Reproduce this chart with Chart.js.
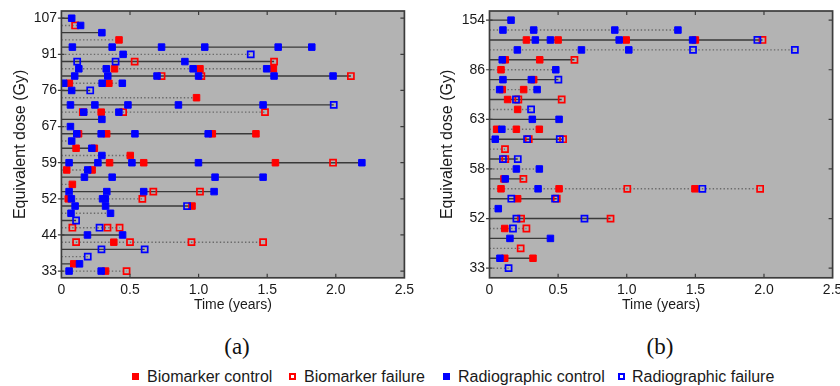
<!DOCTYPE html>
<html>
<head>
<meta charset="utf-8">
<script src="https://cdn.jsdelivr.net/npm/chart.js@4/dist/chart.umd.min.js"></script>
<style>
html,body{margin:0;padding:0;background:#fff;}
body{width:840px;height:386px;overflow:hidden;position:relative;font-family:"Liberation Sans",Arial,sans-serif;}
#c1{position:absolute;left:0;top:0;}
#c2{position:absolute;left:420px;top:0;}
.panel{position:absolute;top:346px;font-family:"Liberation Serif","Times New Roman",serif;font-size:23px;color:#111;transform:translate(-50%,-50%);line-height:1;}
.mk{position:absolute;width:7px;height:7px;top:373px;box-sizing:border-box;}
.lt{position:absolute;top:367px;font-size:16px;line-height:19px;color:#1a1a1a;white-space:nowrap;}
</style>
</head>
<body>
<canvas id="c1" width="420" height="320"></canvas>
<canvas id="c2" width="440" height="320"></canvas>
<div class="panel" style="left:237px">(a)</div>
<div class="panel" style="left:660px">(b)</div>
<div class="mk" style="left:131.5px;background:#ff0000"></div>
<div class="lt" style="left:147px">Biomarker control</div>
<div class="mk" style="left:289px;border:2px solid #ff0000"></div>
<div class="lt" style="left:304px">Biomarker failure</div>
<div class="mk" style="left:443px;background:#0000ff"></div>
<div class="lt" style="left:458px">Radiographic control</div>
<div class="mk" style="left:618px;border:2px solid #0000ff"></div>
<div class="lt" style="left:632px">Radiographic failure</div>
<script>
// ---------- Panel (a): rows listed top to bottom ----------
const aDoseTicks = ['107','91','76','67','59','52','44','33'];
const aBioControl = [[],[],[],[0.42],[],[],[],[0.387,1.01,1.545],[],[0.058,0.346],[],[0.985],[],[0.29],[],[],[0.125,0.33,1.10,1.418],[],[0.107,0.24],[0.502],[0.351,0.60,1.56],[0.039,0.224],[],[0.08],[],[0.05],[0.952],[],[],[],[],[0.382],[],[],[0.09],[0.322]];
const aBioFailure = [[],[0.10],[],[],[],[],[0.534,1.55],[],[0.73,1.02,2.11],[],[],[],[],[0.156,0.45,1.484],[],[],[],[],[],[],[1.98],[],[],[],[0.67,1.01],[0.59],[],[],[],[0.08,0.336,0.424],[],[0.107,0.5,0.948,1.47],[],[],[],[0.475]];
const aRadControl = [[0.075],[0.14],[0.295],[],[0.08,0.37,0.73,1.045,1.58,1.825],[0.45],[0.90],[0.127,0.327,0.96,1.496],[0.097,0.338,0.697,1.00,1.55,1.98],[0.017,0.297,0.444],[0.075],[],[0.066,0.244,0.485,0.853,1.47],[0.163,0.419],[0.295],[0.066],[0.112,0.29,0.536,1.07],[0.075],[0.222],[0.295],[0.056,0.266,0.514,0.999,2.19],[0.192],[0.168,0.37,1.12,1.47],[],[0.056,0.331,0.60,1.113],[0.073,0.30,0.32],[0.10,0.322],[0.07,0.358],[],[],[0.19,0.446],[],[],[],[0.132],[0.056,0.29]];
const aRadFailure = [[],[],[],[],[],[1.38],[0.115,0.395],[],[],[],[0.21],[],[1.985],[],[],[],[],[],[],[],[],[],[],[],[],[],[0.916],[],[0.107],[0.278],[],[],[0.292,0.607],[0.192],[],[]];

// ---------- Panel (b): rows listed top to bottom ----------
const bDoseTicks = ['154','86','63','58','52','33'];
const bBioControl = [[],[],[0.269,0.50,0.996,1.50],[],[0.115,0.366],[0.084],[0.322],[0.093,0.249],[0.132],[0.205],[],[0.052,0.196,0.363],[],[],[],[],[0.105],[0.084,0.507,1.497],[0.205],[],[],[0.111],[],[],[0.111,0.317],[]];
const bBioFailure = [[],[],[1.989],[],[0.619],[],[],[],[0.21,0.526],[],[],[],[0.286,0.536],[0.113],[0.115],[],[0.247],[1.004,1.972],[0.49],[],[0.23,0.882],[0.269],[],[0.227],[],[]];
const bRadControl = [[0.157],[0.098,0.322,0.913,1.373],[0.334,0.444,0.945,1.48],[0.203,0.67,1.015],[0.093],[0.483],[0.098,0.305],[0.074,0.347],[],[],[0.312,0.507],[0.09],[0.042],[],[],[0.196,0.363],[0.115],[0.354],[],[0.064],[],[],[0.149,0.444],[],[0.076],[]];
const bRadFailure = [[],[],[1.952],[1.483,2.225],[],[],[0.502],[],[0.193],[0.303],[],[],[0.274,0.512],[],[0.098,0.206],[],[],[1.551],[0.159,0.478],[],[0.196,0.692],[0.171],[],[],[],[0.139]];

const xTickValues = [0, 0.5, 1.0, 1.5, 2.0, 2.5];

const RED = '#ff0000', BLUE = '#0000ff';
const FONT = '"Liberation Sans", Arial, sans-serif';

function toPoints(rows) {
  const out = [];
  rows.forEach((row, i) => row.forEach(t => out.push({x: t, y: i})));
  return out;
}

function buildDatasets(bc, bf, rc, rf) {
  const solid = [], dotted = [];
  for (let i = 0; i < bc.length; i++) {
    const m = Math.max(...bc[i], ...bf[i], ...rc[i], ...rf[i]);
    const target = (i % 2 === 0) ? solid : dotted;
    target.push({x: 0, y: i}, {x: m, y: i}, {x: null, y: null});
  }
  return [
    {data: solid, showLine: true, pointRadius: 0, borderColor: '#3a3a3a', borderWidth: 1.4, spanGaps: false, order: 20},
    {data: dotted, showLine: true, pointRadius: 0, borderColor: '#6a6a6a', borderWidth: 1.4, borderDash: [1.4, 2.2], spanGaps: false, order: 19},
    {data: toPoints(bc), pointStyle: 'rect', pointRadius: 4.6, backgroundColor: RED, borderColor: RED, borderWidth: 1, order: 4},
    {data: toPoints(bf), pointStyle: 'rect', pointRadius: 4.3, backgroundColor: 'rgba(0,0,0,0)', borderColor: RED, borderWidth: 1.7, order: 3},
    {data: toPoints(rc), pointStyle: 'rect', pointRadius: 4.6, backgroundColor: BLUE, borderColor: BLUE, borderWidth: 1, order: 2},
    {data: toPoints(rf), pointStyle: 'rect', pointRadius: 4.3, backgroundColor: 'rgba(0,0,0,0)', borderColor: BLUE, borderWidth: 1.7, order: 1}
  ];
}

const framePlugin = {
  id: 'frame',
  beforeDatasetsDraw(chart) {
    const {ctx, chartArea: a} = chart;
    ctx.save();
    ctx.fillStyle = '#b3b3b3';
    ctx.fillRect(a.left, a.top, a.right - a.left, a.bottom - a.top);
    ctx.restore();
  },
  afterDatasetsDraw(chart) {
    const {ctx, chartArea: a, scales: {x, y}} = chart;
    ctx.save();
    ctx.strokeStyle = '#3c3c3c';
    ctx.lineWidth = 1.2;
    ctx.beginPath();
    y.ticks.forEach(t => {
      const py = y.getPixelForValue(t.value);
      ctx.moveTo(a.left - 3.5, py); ctx.lineTo(a.left + 3, py);
      ctx.moveTo(a.right - 4, py); ctx.lineTo(a.right, py);
    });
    x.ticks.forEach(t => {
      if (t.value <= 0 || t.value >= 2.5) return;
      const px = x.getPixelForValue(t.value);
      ctx.moveTo(px, a.top); ctx.lineTo(px, a.top + 4);
      ctx.moveTo(px, a.bottom); ctx.lineTo(px, a.bottom - 4);
    });
    ctx.stroke();
    ctx.lineWidth = 1.7;
    ctx.strokeRect(a.left, a.top, a.right - a.left, a.bottom - a.top);
    ctx.restore();
  }
};

function makeChart(id, canvasW, bc, bf, rc, rf, doseTicks, yMin, yMax, yWidth, rightPad, yTitlePad) {
  const tickRows = doseTicks.map((_, k) => k * 5);
  const plotTop = 11, plotBottom = 277.8, canvasH = 320;
  return new Chart(document.getElementById(id), {
    type: 'scatter',
    data: {datasets: buildDatasets(bc, bf, rc, rf)},
    options: {
      responsive: false,
      animation: false,
      events: [],
      devicePixelRatio: 1,
      layout: {padding: {left: 0, top: plotTop, right: rightPad, bottom: 0}},
      plugins: {legend: {display: false}, tooltip: {enabled: false}},
      scales: {
        x: {
          type: 'linear', min: 0, max: 2.5,
          grid: {display: false, drawTicks: false, tickLength: 0},
          border: {display: false},
          afterBuildTicks(s) { s.ticks = xTickValues.map(v => ({value: v})); },
          afterFit(s) { s.height = canvasH - plotBottom; s.paddingLeft = 0; s.paddingRight = 0; },
          ticks: {
            padding: 4.3, color: '#1a1a1a', maxRotation: 0, autoSkip: false,
            font: {family: FONT, size: 14},
            callback: v => v === 0 ? '0' : v.toFixed(1)
          },
          title: {display: true, text: 'Time (years)', color: '#1a1a1a', font: {family: FONT, size: 14}, padding: {top: 0, bottom: 6}}
        },
        y: {
          type: 'linear', reverse: true, min: yMin, max: yMax,
          grid: {display: false, drawTicks: false, tickLength: 0},
          border: {display: false},
          afterBuildTicks(s) { s.ticks = tickRows.map(v => ({value: v})); },
          afterFit(s) { s.width = yWidth; s.paddingTop = 0; s.paddingBottom = 0; },
          ticks: {
            padding: 4.4, color: '#1a1a1a', autoSkip: false,
            font: {family: FONT, size: 14},
            callback: (v, i) => doseTicks[i]
          },
          title: {display: true, text: 'Equivalent dose (Gy)', color: '#1a1a1a', font: {family: FONT, size: 16}, padding: {top: yTitlePad, bottom: 0}}
        }
      }
    },
    plugins: [framePlugin]
  });
}

makeChart('c1', 420, aBioControl, aBioFailure, aRadControl, aRadFailure, aDoseTicks, -1.0, 35.93, 61.4, 420 - 404.4, 11.4);
makeChart('c2', 440, bBioControl, bBioFailure, bRadControl, bRadFailure, bDoseTicks, -0.92, 25.97, 69.5, 440 - 412.6, 18.4);
</script>
</body>
</html>
